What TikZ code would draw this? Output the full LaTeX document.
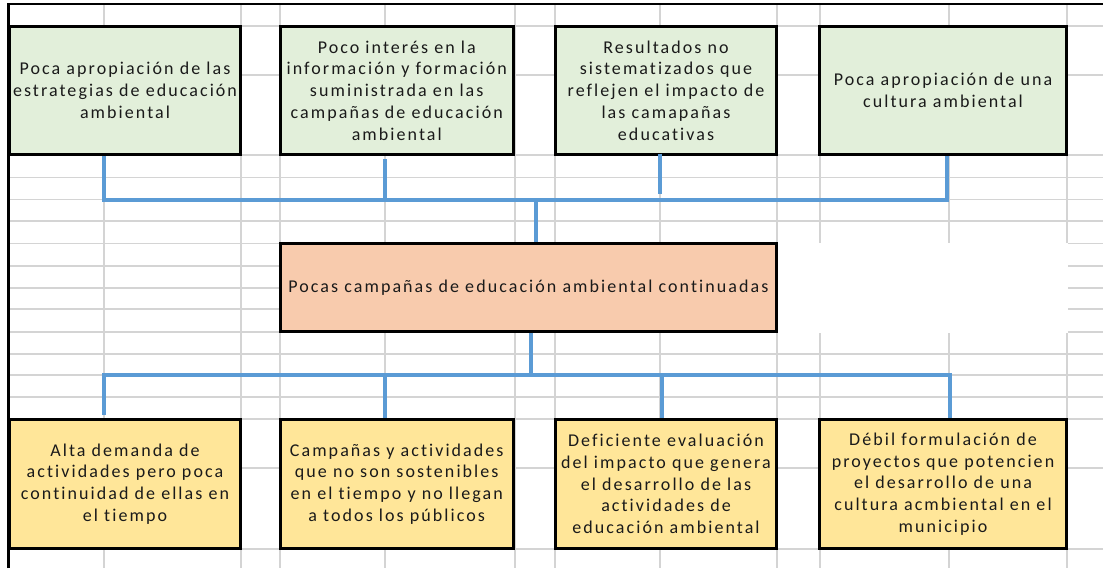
\documentclass[tikz,border=0pt]{standalone}
\usepackage{fontspec}
\setmainfont{Carlito}[LetterSpace=11.5, Ligatures=NoCommon]
\definecolor{gfill}{HTML}{E2EFDA}
\definecolor{ofill}{HTML}{F8CBAD}
\definecolor{yfill}{HTML}{FFE699}
\definecolor{connc}{HTML}{5B9BD5}
\definecolor{gridc}{HTML}{D4D4D4}
\definecolor{txtc}{HTML}{1A1A1A}
\begin{document}
\begin{tikzpicture}[x=1pt,y=-1pt,
  gridline/.style={draw=gridc, line width=1.4pt},
  border/.style={draw=black, line width=2.6pt},
  cell/.style={draw=black, line width=3pt, align=center, inner sep=0pt, text=txtc,
    font=\fontsize{18}{21.7}\selectfont},
  causebox/.style={cell, fill=gfill, minimum height=128.6},
  corebox/.style={cell, fill=ofill, minimum height=87.5},
  effectbox/.style={cell, fill=yfill, minimum height=129.6},
  conn/.style={draw=connc, line width=4.2pt}]
\useasboundingbox (0,0) rectangle (1103,568);
% spreadsheet grid
\foreach \gx in {104,241,280,385,515,555,660,777,820,949,1067}
  \draw[gridline] (\gx,4) -- (\gx,568);
\foreach \gy in {26,75,155,177.7,199.5,221,243.5,266,288,309,332,354,375,397,419,468,549}
  \draw[gridline] (8,\gy) -- (1103,\gy);
\fill[white] (778,242.6) rectangle (1067.8,332.8);
% outer border
\draw[border] (8.5,568) -- (8.5,4) -- (1103,4);
% boxes
\node[causebox, minimum width=231] (c1) at (125,90.5) {Poca apropiación de las\\estrategias de educación\\ambiental};
\node[causebox, minimum width=233.5] (c2) at (396.75,90.5) {Poco interés en la\\información y formación\\suministrada en las\\campañas de educación\\ambiental};
\node[causebox, minimum width=221.4] (c3) at (666,90.5) {Resultados no\\sistematizados que\\reflejen el impacto de\\las camapañas\\educativas};
\node[causebox, minimum width=246.5] (c4) at (943,90.5) {Poca apropiación de una\\cultura ambiental};
\node[corebox, minimum width=496.7] (m) at (528.4,287.5) {Pocas campañas de educación ambiental continuadas};
\node[effectbox, minimum width=231] (e1) at (125,484) {Alta demanda de\\actividades pero poca\\continuidad de ellas en\\el tiempo};
\node[effectbox, minimum width=233.5] (e2) at (396.75,484) {Campañas y actividades\\que no son sostenibles\\en el tiempo y no llegan\\a todos los públicos};
\node[effectbox, minimum width=221.4] (e3) at (666,484) {Deficiente evaluación\\del impacto que genera\\el desarrollo de las\\actividades de\\educación ambiental};
\node[effectbox, minimum width=246.5] (e4) at (943,484) {Débil formulación de\\proyectos que potencien\\el desarrollo de una\\cultura acmbiental en el\\municipio};
% junction coordinates
\coordinate (t1) at (104,200);
\coordinate (t2) at (385,200);
\coordinate (t4) at (947,200);
\coordinate (tc) at (536,200);
\coordinate (s2) at (385,159);
\coordinate (s3) at (660,153.5);
\coordinate (u3) at (660,194);
\coordinate (bc) at (531,375);
\coordinate (h1) at (104,375);
\coordinate (h4) at (950,375);
\coordinate (f1) at (104,415);
\coordinate (h2) at (385,375);
\coordinate (h3) at (662,375);
% connectors: causes to core
\draw[conn] (c1.south -| t1) -- (t1) -- (t4) -- (c4.south -| t4);
\draw[conn] (s2) -- (t2);
\draw[conn] (s3) -- (u3);
\draw[conn] (tc) -- (m.north -| tc);
% connectors: core to effects
\draw[conn] (m.south -| bc) -- (bc);
\draw[conn] (f1) -- (h1) -- (h4) -- (e4.north -| h4);
\draw[conn] (h2) -- (e2.north -| h2);
\draw[conn] (h3) -- (e3.north -| h3);
\end{tikzpicture}
\end{document}
